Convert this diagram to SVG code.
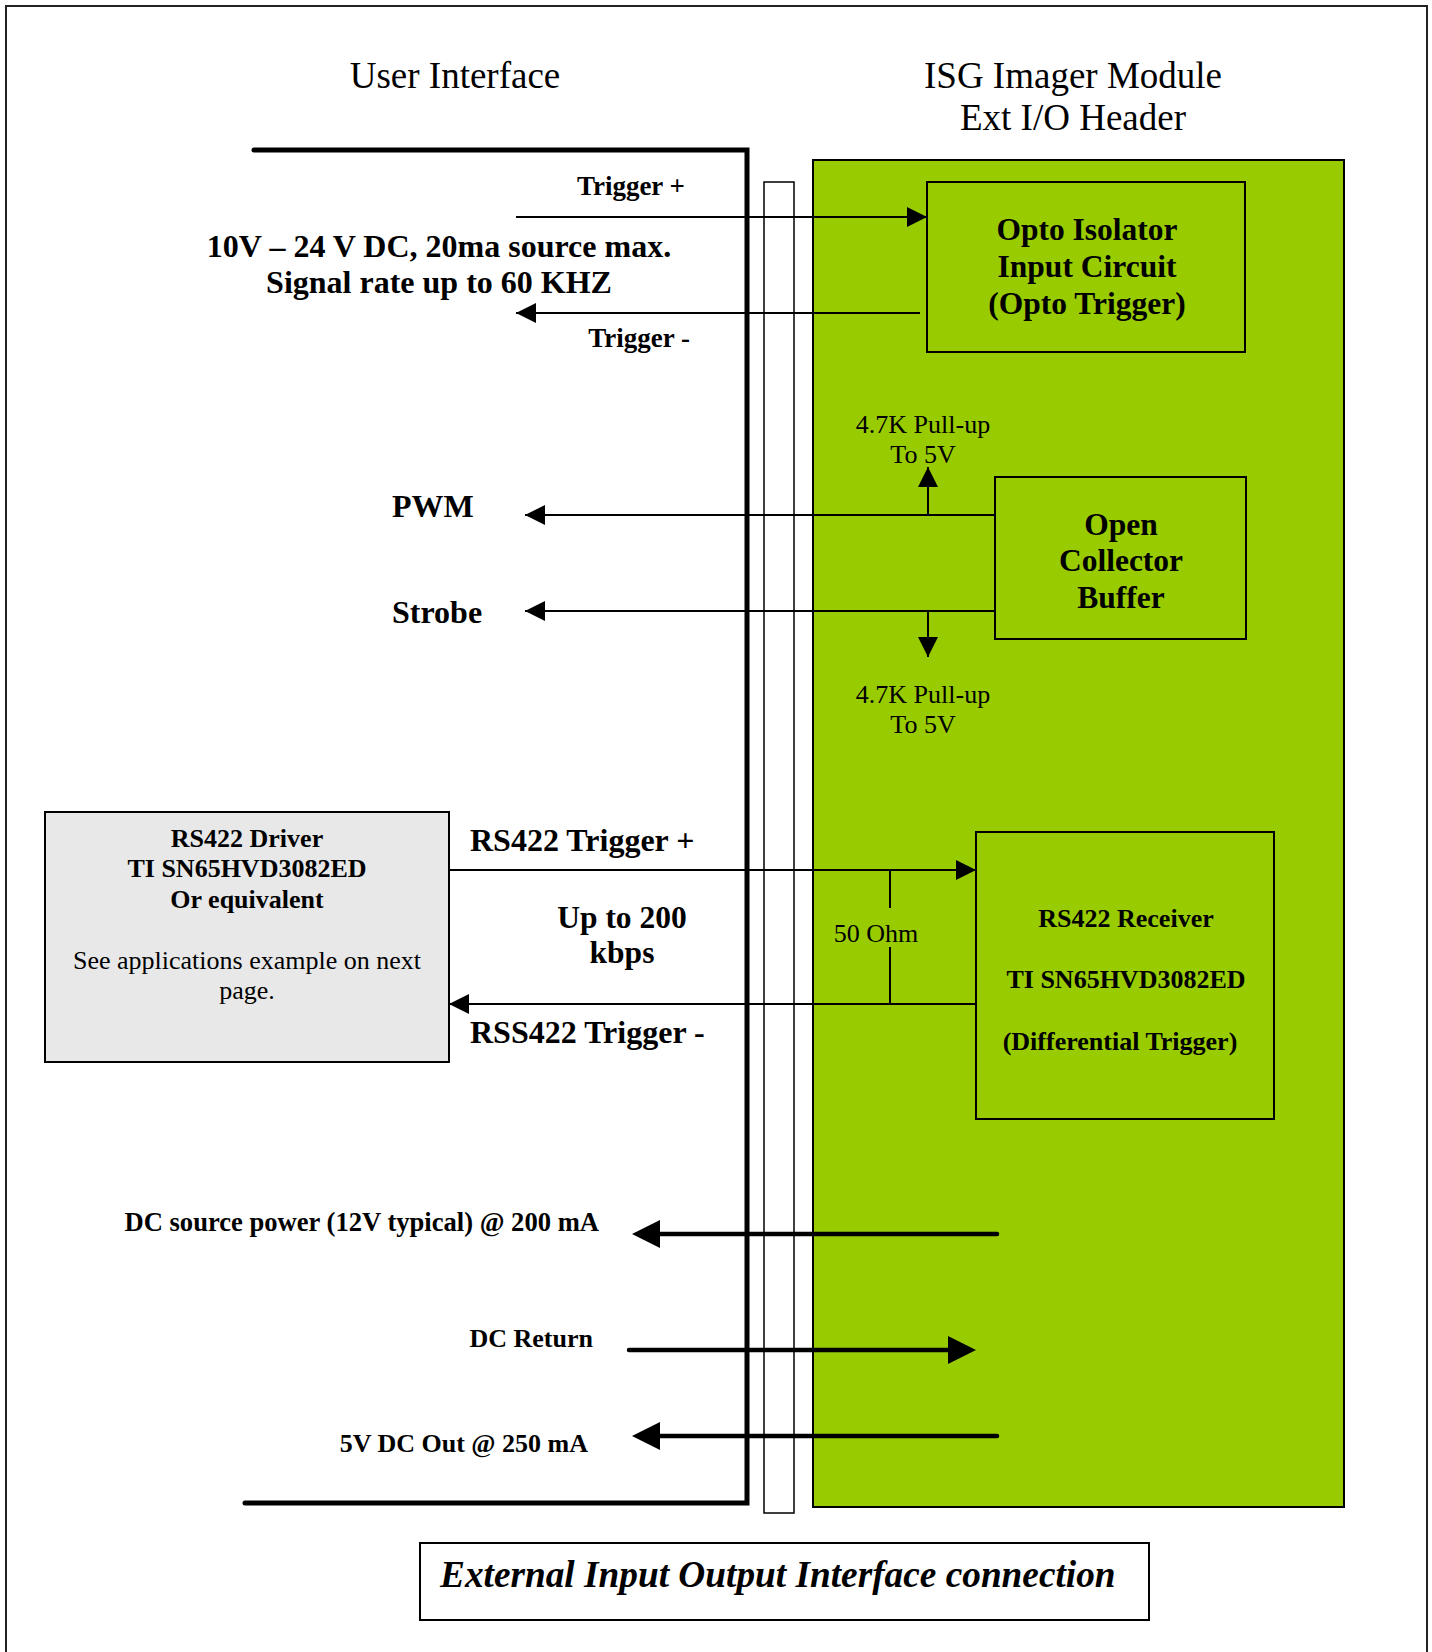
<svg xmlns="http://www.w3.org/2000/svg" width="1432" height="1652" viewBox="0 0 1432 1652">
<defs>
<style>
text{font-family:"Liberation Serif","Times New Roman",serif;fill:#000}
.b{font-weight:bold}
.t{font-size:37px}
.m{font-size:31.5px}
.l{font-size:32px}
.s{font-size:26px}
.k{font-size:27px}
.c{text-anchor:middle}
.e{text-anchor:end}
.thin{stroke:#000;stroke-width:2;fill:none}
.thick{stroke:#000;stroke-width:5;fill:none;stroke-linecap:round}
.pow{stroke:#000;stroke-width:4.5;fill:none;stroke-linecap:round}
</style>
<marker id="ah" viewBox="0 0 10 10" refX="10" refY="5" markerWidth="20" markerHeight="20" markerUnits="userSpaceOnUse" orient="auto"><path d="M0,0L10,5L0,10z" fill="#000"/></marker>
</defs>
<rect width="1432" height="1652" fill="#fff"/>
<rect x="6" y="6" width="1421" height="1700" fill="none" stroke="#222" stroke-width="2"/>

<text class="t c" x="455" y="88">User Interface</text>
<text class="t c" x="1073" y="88">ISG Imager Module</text>
<text class="t c" x="1073" y="130">Ext I/O Header</text>

<g id="module">
<rect x="813" y="160" width="531" height="1347" fill="#99CC00" stroke="#000" stroke-width="2"/>
</g>
<g id="strip">
<rect x="764" y="182" width="30" height="1331" fill="none" stroke="#000" stroke-width="1.5"/>
</g>
<g id="bracket">
<path class="thick" d="M254,150H747V1503H245"/>
</g>

<g id="opto">
<rect x="927" y="182" width="318" height="170" fill="#99CC00" stroke="#000" stroke-width="2"/>
<text class="m b c" x="1087" y="240">Opto Isolator</text>
<text class="m b c" x="1087" y="277">Input Circuit</text>
<text class="m b c" x="1087" y="314">(Opto Trigger)</text>
</g>

<g id="oc">
<rect x="995" y="477" width="251" height="162" fill="#99CC00" stroke="#000" stroke-width="2"/>
<text class="m b c" x="1121" y="535">Open</text>
<text class="m b c" x="1121" y="571">Collector</text>
<text class="m b c" x="1121" y="608">Buffer</text>
</g>

<g id="rxbox">
<rect x="976" y="832" width="298" height="287" fill="#99CC00" stroke="#000" stroke-width="2"/>
<text class="s b c" x="1126" y="927">RS422 Receiver</text>
<text class="s b c" x="1126" y="988">TI SN65HVD3082ED</text>
<text class="s b c" x="1120" y="1050">(Differential Trigger)</text>
</g>

<g id="driver">
<rect x="45" y="812" width="404" height="250" fill="#E8E8E8" stroke="#000" stroke-width="2"/>
<text class="s b c" x="247" y="847">RS422 Driver</text>
<text class="s b c" x="247" y="877">TI SN65HVD3082ED</text>
<text class="s b c" x="247" y="908">Or equivalent</text>
<text class="s c" x="247" y="969">See applications example on next</text>
<text class="s c" x="247" y="999">page.</text>
</g>

<g id="caption">
<rect x="420" y="1543" width="729" height="77" fill="#fff" stroke="#000" stroke-width="2"/>
<text class="b" x="440" y="1587" style="font-size:37.3px;font-style:italic">External Input Output Interface connection</text>
</g>

<g id="connectors">
<line class="thin" x1="516" y1="217" x2="927" y2="217" marker-end="url(#ah)"/>
<line class="thin" x1="920" y1="313" x2="516" y2="313" marker-end="url(#ah)"/>
<line class="thin" x1="995" y1="515" x2="525" y2="515" marker-end="url(#ah)"/>
<line class="thin" x1="995" y1="611" x2="525" y2="611" marker-end="url(#ah)"/>
<line class="thin" x1="928" y1="515" x2="928" y2="467" marker-end="url(#ah)"/>
<line class="thin" x1="928" y1="611" x2="928" y2="657" marker-end="url(#ah)"/>
<line class="thin" x1="449" y1="870" x2="976" y2="870" marker-end="url(#ah)"/>
<line class="thin" x1="976" y1="1004" x2="449" y2="1004" marker-end="url(#ah)"/>
<path class="thin" d="M890,870V908M890,947V1004"/>
<line class="pow" x1="997" y1="1234" x2="660" y2="1234"/>
<path d="M632,1234L660,1220V1248z"/>
<line class="pow" x1="629" y1="1350" x2="948" y2="1350"/>
<path d="M976,1350L948,1336V1364z"/>
<line class="pow" x1="997" y1="1436" x2="660" y2="1436"/>
<path d="M632,1436L660,1422V1450z"/>
</g>

<text class="k b e" x="685" y="195">Trigger +</text>
<text class="k b e" x="690" y="347">Trigger -</text>
<text class="l b c" x="439" y="257">10V – 24 V DC, 20ma source max.</text>
<text class="l b c" x="439" y="293">Signal rate up to 60 KHZ</text>
<text class="l b" x="392" y="517">PWM</text>
<text class="l b" x="392" y="623">Strobe</text>
<text class="s c" x="923" y="433">4.7K Pull-up</text>
<text class="s c" x="923" y="463">To 5V</text>
<text class="s c" x="923" y="703">4.7K Pull-up</text>
<text class="s c" x="923" y="733">To 5V</text>
<text class="l b" x="470" y="851">RS422 Trigger +</text>
<text class="m b c" x="622" y="928">Up to 200</text>
<text class="m b c" x="622" y="963">kbps</text>
<text class="l b" x="470" y="1043">RSS422 Trigger -</text>
<text class="s c" x="876" y="942">50 Ohm</text>
<text class="b e" x="599" y="1231" style="font-size:26.6px">DC source power (12V typical) @ 200 mA</text>
<text class="s b e" x="593" y="1347">DC Return</text>
<text class="s b e" x="588" y="1452">5V DC Out @ 250 mA</text>
</svg>
